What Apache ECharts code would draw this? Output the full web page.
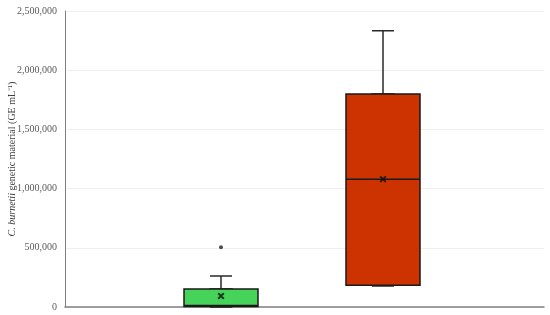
<!DOCTYPE html>
<html>
<head>
<meta charset="utf-8">
<script src="https://cdn.jsdelivr.net/npm/echarts@6/dist/echarts.min.js"></script>
<style>
  html, body { margin: 0; padding: 0; background: #fff; }
  #chart { width: 550px; height: 315px; }
</style>
</head>
<body>
<div id="chart"></div>
<script>
// data
var groups = ['Group 1', 'Group 2']
var boxMin = [0, 178000]
var boxQ1 = [5000, 183000]
var boxMedian = [12000, 1078000]
var boxQ3 = [152000, 1799000]
var boxMax = [262000, 2334000]
var means = [93000, 1080000]
var outliers = [[0, 504000]]
var boxColors = ['#46d35a', '#cc3300']
var yTicks = [0, 500000, 1000000, 1500000, 2000000, 2500000]

function fmt(v) {
  return String(v).replace(/\B(?=(\d{3})+(?!\d))/g, ',')
}

var chart = echarts.init(document.getElementById('chart'))

var wideData = [], narrowData = []
groups.forEach(function (g, i) {
  wideData.push({
    value: [boxQ1[i], boxQ1[i], boxMedian[i], boxQ3[i], boxQ3[i]],
    itemStyle: { color: boxColors[i], borderColor: '#1a1a1a', borderWidth: 1.5 }
  })
  narrowData.push({
    value: [boxMin[i], boxQ1[i], boxMedian[i], boxQ3[i], boxMax[i]],
    itemStyle: { color: boxColors[i], borderColor: '#2a2a2a', borderWidth: 1.5 }
  })
})

var hiddenX = function (idx) {
  return {
    type: 'category', gridIndex: idx, data: groups,
    axisLine: { show: false }, axisTick: { show: false },
    axisLabel: { show: false }, splitLine: { show: false }
  }
}
var hiddenY = function (idx) {
  return {
    type: 'value', gridIndex: idx, min: 0, max: 2500000, interval: 500000,
    axisLine: { show: false }, axisTick: { show: false },
    axisLabel: { show: false }, splitLine: { show: false }
  }
}

var option = {
  animation: false,
  grid: [
    { left: 65, right: 6, top: 11, bottom: 8, outerBoundsMode: 'none', containLabel: false },
    { left: 140, width: 324, top: 11, bottom: 8, outerBoundsMode: 'none', containLabel: false },
    { left: 140, width: 324, top: 11, bottom: 8, outerBoundsMode: 'none', containLabel: false }
  ],
  xAxis: [
    {
      type: 'category', gridIndex: 0, data: [''],
      axisLine: { lineStyle: { color: '#808080', width: 1.5 } },
      axisTick: { show: false }, axisLabel: { show: false }
    },
    hiddenX(1),
    hiddenX(2)
  ],
  yAxis: [
    {
      type: 'value', gridIndex: 0, min: 0, max: 2500000, interval: 500000,
      axisLine: { show: true, lineStyle: { color: '#808080', width: 1 } },
      axisTick: { show: false },
      splitLine: { lineStyle: { color: '#efefef', width: 1 } },
      axisLabel: {
        color: '#595959', fontFamily: 'Liberation Serif', fontSize: 10, margin: 8,
        formatter: function (v) { return yTicks.indexOf(v) >= 0 ? fmt(v) : '' }
      },
      name: '{i|C. burnetii} genetic material (GE mL⁻¹)',
      nameLocation: 'middle', nameGap: 48, nameMoveOverlap: false,
      nameTextStyle: {
        color: '#404040', fontFamily: 'Liberation Serif', fontSize: 10,
        rich: { i: { fontStyle: 'italic', fontFamily: 'Liberation Serif', fontSize: 10, color: '#404040' } }
      }
    },
    hiddenY(1),
    hiddenY(2)
  ],
  series: [
    {
      type: 'boxplot', xAxisIndex: 1, yAxisIndex: 1, z: 2,
      boxWidth: [22, 22], data: narrowData
    },
    {
      type: 'boxplot', xAxisIndex: 2, yAxisIndex: 2, z: 3,
      boxWidth: [74, 74], data: wideData
    },
    {
      type: 'scatter', xAxisIndex: 1, yAxisIndex: 1, z: 5,
      symbol: 'path://M0,2L2,0L5,3L8,0L10,2L7,5L10,8L8,10L5,7L2,10L0,8L3,5Z',
      symbolSize: 7, itemStyle: { color: '#111' },
      data: means.map(function (m, i) { return [i, m] })
    },
    {
      type: 'scatter', xAxisIndex: 1, yAxisIndex: 1, z: 5,
      symbol: 'circle', symbolSize: 4, itemStyle: { color: '#222' },
      data: outliers
    }
  ]
}
chart.setOption(option)
</script>
</body>
</html>
